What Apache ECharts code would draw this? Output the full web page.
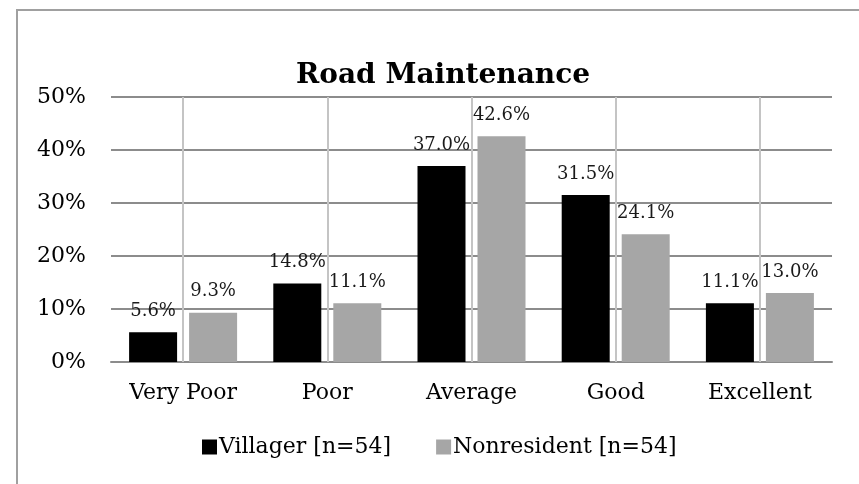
<!DOCTYPE html>
<html>
<head>
<meta charset="utf-8">
<script src="https://cdn.jsdelivr.net/npm/echarts@6/dist/echarts.min.js"></script>
<style>
  html, body { margin: 0; padding: 0; background: #fff; }
  #chart { width: 859px; height: 484px; }
</style>
</head>
<body>
<div id="chart"></div>
<script>
// data
const categories = ['Very Poor', 'Poor', 'Average', 'Good', 'Excellent']
const villager = [5.6, 14.8, 37.0, 31.5, 11.1]
const nonresident = [9.3, 11.1, 42.6, 24.1, 13.0]
const yTicks = [0, 10, 20, 30, 40, 50]

const serif = "'DejaVu Serif', 'Liberation Serif', serif"

const barLabel = {
  show: true,
  position: 'top',
  distance: 12,
  fontFamily: serif,
  fontSize: 18,
  color: '#1a1a1a',
  formatter: p => p.value.toFixed(1) + '%'
}

const chart = echarts.init(document.getElementById('chart'))

const option = {
  animation: false,
  backgroundColor: '#fff',
  graphic: [
    {
      type: 'rect',
      shape: { x: 17, y: 10, width: 860, height: 490 },
      style: { fill: 'none', stroke: '#a0a0a0', lineWidth: 2 },
      silent: true
    }
  ],
  title: {
    text: 'Road Maintenance',
    left: 438,
    textAlign: 'center',
    top: 57,
    textStyle: { fontFamily: serif, fontSize: 28, fontWeight: 'bold', color: '#000' }
  },
  legend: {
    left: 197,
    top: 431,
    itemWidth: 15,
    itemHeight: 15,
    itemGap: 45,
    icon: 'rect',
    textStyle: { fontFamily: serif, fontSize: 22, color: '#000', padding: [0, 0, 0, -3] },
    data: ['Villager [n=54]', 'Nonresident [n=54]']
  },
  grid: { left: 111, right: 27, top: 97, bottom: 122 },
  xAxis: {
    type: 'category',
    data: categories,
    axisTick: { show: false },
    axisLine: { lineStyle: { color: '#8c8c8c', width: 2 } },
    axisLabel: { fontFamily: serif, fontSize: 22, color: '#000', margin: 20 },
    splitLine: { show: false }
  },
  yAxis: {
    type: 'value',
    min: yTicks[0],
    max: yTicks[yTicks.length - 1],
    interval: 10,
    axisLine: { show: false },
    axisTick: { show: false },
    axisLabel: { fontFamily: serif, fontSize: 22, color: '#000', margin: 25, formatter: '{value}%' },
    splitLine: { lineStyle: { color: '#8c8c8c', width: 2 } }
  },
  series: [
    {
      // empty helper series: vertical grid lines on category centres
      name: 'vgrid',
      type: 'line',
      data: [],
      silent: true,
      z: 1,
      markLine: {
        silent: true,
        symbol: 'none',
        animation: false,
        label: { show: false },
        lineStyle: { color: '#c4c4c4', width: 2, type: 'solid' },
        data: categories.map(c => ({ xAxis: c }))
      }
    },
    {
      name: 'Villager [n=54]',
      type: 'bar',
      data: villager,
      barWidth: 48,
      barGap: '25%',
      itemStyle: { color: '#000' },
      label: barLabel
    },
    {
      name: 'Nonresident [n=54]',
      type: 'bar',
      data: nonresident,
      barWidth: 48,
      itemStyle: { color: '#a6a6a6' },
      label: barLabel
    }
  ]
}

chart.setOption(option)
</script>
</body>
</html>
